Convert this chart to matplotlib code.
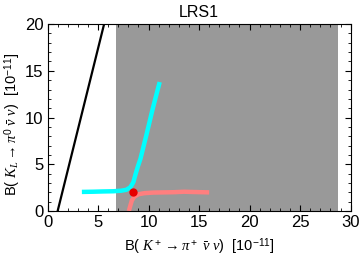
import matplotlib
matplotlib.use('Agg')
import matplotlib.pyplot as plt
from matplotlib.ticker import MultipleLocator
import numpy as np

plt.rcParams['font.family'] = ['Liberation Sans', 'DejaVu Sans']
plt.rcParams['mathtext.fontset'] = 'custom'
plt.rcParams['mathtext.rm'] = 'Liberation Sans'
plt.rcParams['mathtext.it'] = 'Liberation Serif:italic'

# allowed band on B(K+ -> pi+ nu nu)
band_x = [6.8, 28.7]

# Grossman-Nir bound (black line)
gn_x = [1.0, 5.6]
gn_y = [0.0, 20.0]

# cyan branch
cyan_x = [3.4, 4.5, 5.5, 6.5, 7.3, 7.8, 8.2, 8.5, 8.7, 8.95, 9.2, 9.8, 10.4, 11.1]
cyan_y = [2.05, 2.07, 2.1, 2.12, 2.18, 2.28, 2.55, 3.1, 3.9, 4.8, 5.6, 8.2, 10.9, 13.8]

# pink branch
pink_x = [8.05, 8.2, 8.35, 8.6, 9.0, 9.6, 10.5, 11.5, 12.5, 13.5, 14.5, 16.0]
pink_y = [0.0, 0.6, 1.15, 1.55, 1.8, 1.92, 1.98, 2.0, 2.02, 2.07, 2.04, 2.0]

# SM point
sm_x = [8.43]
sm_y = [2.03]

fig = plt.figure(figsize=(3.6, 2.59), dpi=100)
ax = fig.add_axes([0.132, 0.185, 0.842, 0.722])

ax.axvspan(band_x[0], band_x[1], color='#999999', lw=0, zorder=0)
ax.plot(gn_x, gn_y, color='black', lw=1.6, zorder=2)
ax.plot(cyan_x, cyan_y, color='#00ffff', lw=3.2, solid_capstyle='butt', zorder=3)
ax.plot(pink_x, pink_y, color='#ff7f7f', lw=3.2, solid_capstyle='butt', zorder=3)
ax.scatter(sm_x, sm_y, s=36, color='#e60000', zorder=4, lw=0)

ax.set_xlim(0, 30)
ax.set_ylim(0, 20)
ax.xaxis.set_major_locator(MultipleLocator(5))
ax.xaxis.set_minor_locator(MultipleLocator(1))
ax.yaxis.set_major_locator(MultipleLocator(5))
ax.yaxis.set_minor_locator(MultipleLocator(1))
ax.tick_params(which='both', direction='in', top=True, right=True, labelsize=12, pad=3)
ax.tick_params(which='major', length=4, width=0.8)
ax.tick_params(which='minor', length=2, width=0.6)

ax.set_title('LRS1', fontsize=11.5, pad=5)
ax.set_xlabel(r'B( $K^+\rightarrow\pi^+\ \bar{\nu}\ \nu$)  [$10^{-11}$]', fontsize=10.5, labelpad=4)
fig.text(13 / 360, 0.52, r'B( $K_L\rightarrow\pi^0\ \bar{\nu}\ \nu$)  [$10^{-11}$]',
         fontsize=10.5, rotation=90, ha='center', va='center')

fig.savefig('out.png', dpi=100)
